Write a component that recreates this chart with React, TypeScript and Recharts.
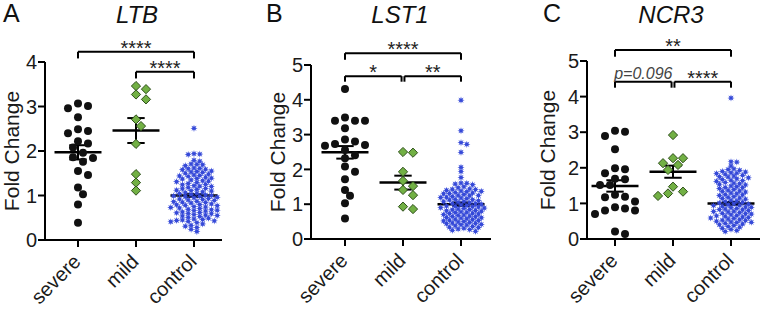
import React from 'react';
import { ScatterChart, Scatter, XAxis, YAxis, ReferenceLine } from 'recharts';

const groups = ['severe', 'mild', 'control'];

// LTB
const ltbSevere = [3.01, 2.96, 3.07, 2.76, 2.49, 2.4, 2.45, 2.17, 2.22, 2.08, 1.86, 1.84, 1.96, 1.76, 1.55, 1.46, 1.18, 1.03, 0.8, 0.39];
const ltbMild = [3.46, 3.39, 3.16, 3.27, 2.71, 2.56, 2.16, 1.48, 1.29, 1.11];
const ltbControl = [
  2.51, 1.94, 1.93, 1.92, 1.79, 1.77, 1.71, 1.69, 1.67, 1.7, 1.62, 1.6, 1.58, 1.61, 1.59, 1.55, 1.53, 1.52, 1.54, 1.5,
  1.48, 1.44, 1.46, 1.43, 1.45, 1.41, 1.39, 1.37, 1.35, 1.38, 1.33, 1.31, 1.29, 1.32, 1.27, 1.25, 1.22, 1.24, 1.2, 1.18,
  1.21, 1.16, 1.14, 1.12, 1.15, 1.1, 1.08, 1.11, 1.06, 1.04, 1.05, 1.02, 1.0, 1.01, 0.98, 0.97, 0.99, 0.95, 0.93, 0.96,
  0.91, 0.92, 0.89, 0.87, 0.9, 0.85, 0.86, 0.83, 0.81, 0.84, 0.79, 0.8, 0.77, 0.75, 0.78, 0.73, 0.74, 0.71, 0.69, 0.72,
  0.67, 0.68, 0.65, 0.63, 0.66, 0.61, 0.62, 0.59, 0.57, 0.6, 0.55, 0.56, 0.53, 0.51, 0.54, 0.49, 0.47, 0.45, 0.46, 0.43,
  0.42, 0.41, 0.44, 0.39, 0.36, 0.33, 0.31, 0.28, 0.24, 0.19,
];
const ltbMean = [1.97, 2.46, 1.0];
const ltbSem = [0.16, 0.28, 0.03];

// LST1
const lst1Severe = [4.31, 3.4, 3.4, 3.49, 3.4, 3.18, 2.86, 2.73, 2.7, 2.68, 2.8, 2.56, 2.41, 2.32, 2.08, 1.93, 1.72, 1.41, 1.24, 1.03, 0.59];
const lst1Mild = [2.5, 2.48, 1.93, 1.67, 1.52, 1.41, 1.26, 0.86, 0.93];
const lst1Control = [
  3.99, 3.11, 2.77, 2.72, 2.49, 2.06, 1.94, 1.77, 1.61, 1.58, 1.56, 1.6, 1.5, 1.47, 1.44, 1.42, 1.4, 1.43, 1.38, 1.36,
  1.34, 1.37, 1.32, 1.3, 1.28, 1.31, 1.26, 1.24, 1.22, 1.25, 1.2, 1.18, 1.16, 1.19, 1.14, 1.12, 1.1, 1.13, 1.08, 1.06,
  1.04, 1.07, 1.02, 1.0, 0.98, 1.01, 0.96, 0.94, 0.95, 0.92, 0.9, 0.93, 0.88, 0.86, 0.89, 0.84, 0.82, 0.85, 0.8, 0.78,
  0.81, 0.76, 0.74, 0.77, 0.72, 0.7, 0.73, 0.68, 0.66, 0.69, 0.64, 0.62, 0.65, 0.6, 0.58, 0.61, 0.56, 0.54, 0.57, 0.52,
  0.5, 0.53, 0.48, 0.46, 0.49, 0.44, 0.42, 0.45, 0.4, 0.38, 0.41, 0.36, 0.34, 0.31, 0.33, 0.29, 0.27, 0.25, 0.22,
];
const lst1Mean = [2.49, 1.62, 1.0];
const lst1Sem = [0.18, 0.2, 0.05];

// NCR3
const ncr3Severe = [3.04, 3.01, 2.89, 2.52, 1.96, 1.99, 1.85, 1.68, 1.69, 1.52, 1.52, 1.17, 1.24, 1.19, 1.05, 0.86, 0.8, 0.7, 0.8, 0.89, 0.14, 0.21];
const ncr3Mild = [2.92, 2.27, 2.27, 2.08, 2.13, 1.94, 1.47, 1.33, 1.21, 1.28];
const ncr3Control = [
  3.96, 2.17, 2.16, 2.05, 1.97, 1.95, 1.93, 1.9, 1.88, 1.86, 1.84, 1.82, 1.85, 1.79, 1.77, 1.75, 1.72, 1.74, 1.69, 1.67,
  1.65, 1.62, 1.64, 1.59, 1.57, 1.55, 1.52, 1.54, 1.49, 1.47, 1.45, 1.42, 1.44, 1.39, 1.37, 1.35, 1.32, 1.34, 1.29, 1.27,
  1.25, 1.22, 1.24, 1.19, 1.17, 1.15, 1.12, 1.14, 1.09, 1.07, 1.05, 1.03, 1.01, 0.99, 0.98, 0.96, 0.94, 0.92, 0.95, 0.9,
  0.88, 0.86, 0.89, 0.84, 0.82, 0.8, 0.83, 0.78, 0.76, 0.74, 0.77, 0.72, 0.7, 0.68, 0.71, 0.66, 0.64, 0.62, 0.65, 0.6,
  0.58, 0.56, 0.59, 0.54, 0.52, 0.5, 0.53, 0.48, 0.46, 0.44, 0.47, 0.42, 0.4, 0.38, 0.35, 0.33, 0.3, 0.27, 0.24, 0.21,
];
const ncr3Mean = [1.49, 1.89, 1.0];
const ncr3Sem = [0.16, 0.17, 0.04];

const FONT = '"Liberation Sans", Arial, sans-serif';
const PX_PER_X = 58;

type Bracket = { x1: number; x2: number; y: number; leg: number; label: string; italic?: boolean };

const panels = [
  {
    letter: 'A', letterX: 3, title: 'LTB', titleX: 137, ylabelX: 18.5,
    left: 0, axisX: 45, top: 62, bottom: 240, right: 222, yMax: 4, xDomain: [0.431, 3.483],
    series: [ltbSevere, ltbMild, ltbControl], mean: ltbMean, sem: ltbSem,
    brackets: [
      { x1: 1, x2: 3, y: 4.23, leg: 0.15, label: '****' },
      { x1: 2, x2: 3, y: 3.78, leg: 0.15, label: '****' },
    ] as Bracket[],
  },
  {
    letter: 'B', letterX: 266, title: 'LST1', titleX: 400, ylabelX: 285,
    left: 254, axisX: 311, top: 65, bottom: 239, right: 491, yMax: 5, xDomain: [0.414, 3.517],
    series: [lst1Severe, lst1Mild, lst1Control], mean: lst1Mean, sem: lst1Sem,
    brackets: [
      { x1: 1, x2: 3, y: 5.34, leg: 0.19, label: '****' },
      { x1: 1, x2: 1.975, y: 4.68, leg: 0.16, label: '*' },
      { x1: 2.025, x2: 3, y: 4.68, leg: 0.16, label: '**' },
    ] as Bracket[],
  },
  {
    letter: 'C', letterX: 543, title: 'NCR3', titleX: 671, ylabelX: 554.5,
    left: 508, axisX: 587, top: 61, bottom: 239, right: 760, yMax: 5, xDomain: [0.517, 3.5],
    series: [ncr3Severe, ncr3Mild, ncr3Control], mean: ncr3Mean, sem: ncr3Sem,
    brackets: [
      { x1: 1, x2: 3, y: 5.31, leg: 0.19, label: '**' },
      { x1: 1, x2: 1.975, y: 4.42, leg: 0.17, label: 'p=0.096', italic: true },
      { x1: 2.025, x2: 3, y: 4.42, leg: 0.17, label: '****' },
    ] as Bracket[],
  },
];

// beeswarm placement of points around a category centre
function swarm(values: number[], center: number, pxY: number, diam: number, step: number) {
  const sorted = [...values].sort((a, b) => b - a);
  const placed: { dx: number; py: number }[] = [];
  return sorted.map((v) => {
    const py = v * pxY;
    let dx = 0;
    for (let k = 0; k < 80; k++) {
      const cand = k === 0 ? 0 : (k % 2 === 1 ? 1 : -1) * Math.ceil(k / 2) * step;
      if (placed.every((p) => (p.dx - cand) ** 2 + (p.py - py) ** 2 >= diam * diam)) {
        dx = cand;
        break;
      }
    }
    placed.push({ dx, py });
    return { x: center + dx / PX_PER_X, y: v };
  });
}

const Dot = (p: any) => <circle cx={p.cx} cy={p.cy} r={4} fill="#111" />;

const Diamond = (p: any) => {
  const r = 4.6;
  return (
    <path
      d={`M${p.cx},${p.cy - r}L${p.cx + r},${p.cy}L${p.cx},${p.cy + r}L${p.cx - r},${p.cy}Z`}
      fill="#72b044"
      stroke="#2f4f1c"
      strokeWidth={1}
    />
  );
};

const Star = (p: any) => {
  const pts: string[] = [];
  for (let i = 0; i < 16; i++) {
    const r = i % 2 === 0 ? 3.6 : 1.6;
    const a = (Math.PI * i) / 8 - Math.PI / 2;
    pts.push(`${p.cx + r * Math.cos(a)},${p.cy + r * Math.sin(a)}`);
  }
  return <polygon points={pts.join(' ')} fill="#3549d8" />;
};

// category labels, slanted like the original
const CatTick = (props: any) => {
  const { x, y, payload } = props;
  return (
    <text
      x={x}
      y={y}
      dx={-7}
      dy={12.5}
      transform={`rotate(-45 ${x} ${y})`}
      textAnchor="end"
      fontSize={20}
      fontFamily={FONT}
      fill="#1a1a1a"
    >
      {groups[payload.value - 1]}
    </text>
  );
};

function Panel({ cfg }: { cfg: (typeof panels)[number] }) {
  const pxY = (cfg.bottom - cfg.top) / cfg.yMax;
  const shapes = [Dot, Diamond, Star];
  const data = cfg.series.map((vals, i) =>
    i === 2 ? swarm(vals, i + 1, pxY, 4.0, 2.9) : swarm(vals, i + 1, pxY, 7.6, 5)
  );
  const yTicks = Array.from({ length: cfg.yMax + 1 }, (_, i) => i);
  const line = { stroke: '#000', strokeWidth: 2 };
  return (
    <div style={{ position: 'absolute', left: cfg.left, top: 0 }}>
      <ScatterChart
        width={254}
        height={310}
        margin={{ top: cfg.top, bottom: 0, left: 0, right: 254 - (cfg.right - cfg.left) }}
      >
        <XAxis
          type="number"
          dataKey="x"
          domain={cfg.xDomain}
          ticks={[1, 2, 3]}
          interval={0}
          allowDataOverflow
          axisLine={line}
          tickLine={line}
          tickSize={7}
          tickMargin={2}
          tick={CatTick}
          height={310 - cfg.bottom}
        />
        <YAxis
          type="number"
          dataKey="y"
          domain={[0, cfg.yMax]}
          ticks={yTicks}
          interval={0}
          allowDataOverflow
          axisLine={line}
          tickLine={line}
          tickSize={7}
          tickMargin={1}
          width={cfg.axisX - cfg.left}
          tick={{ fontSize: 20, fill: '#1a1a1a', fontFamily: FONT }}
        />
        {data.map((d, i) => (
          <Scatter key={groups[i]} name={groups[i]} data={d} shape={shapes[i]} isAnimationActive={false} />
        ))}
        {cfg.mean.map((m, i) => (
          <ReferenceLine
            key={`m${i}`}
            segment={[{ x: i + 0.595, y: m }, { x: i + 1.405, y: m }]}
            stroke="#000"
            strokeWidth={2.5}
            ifOverflow="visible"
          />
        ))}
        {cfg.mean.map((m, i) => (
          <ReferenceLine
            key={`s${i}`}
            segment={[{ x: i + 1, y: m - cfg.sem[i] }, { x: i + 1, y: m + cfg.sem[i] }]}
            stroke="#000"
            strokeWidth={2}
            ifOverflow="visible"
          />
        ))}
        {cfg.mean.flatMap((m, i) =>
          [m - cfg.sem[i], m + cfg.sem[i]].map((v, j) => (
            <ReferenceLine
              key={`c${i}${j}`}
              segment={[{ x: i + 0.85, y: v }, { x: i + 1.15, y: v }]}
              stroke="#000"
              strokeWidth={2}
              ifOverflow="visible"
            />
          ))
        )}
        {cfg.brackets.flatMap((b, i) => [
          <ReferenceLine
            key={`b${i}`}
            segment={[{ x: b.x1, y: b.y }, { x: b.x2, y: b.y }]}
            stroke="#000"
            strokeWidth={2}
            ifOverflow="visible"
            label={{
              value: b.label,
              position: 'top',
              offset: b.italic ? 3 : -3,
              fontSize: b.italic ? 16 : 20,
              fill: b.italic ? '#444' : '#222',
              fontStyle: b.italic ? 'italic' : 'normal',
              fontFamily: FONT,
            }}
          />,
          <ReferenceLine
            key={`l${i}`}
            segment={[{ x: b.x1, y: b.y }, { x: b.x1, y: b.y - b.leg }]}
            stroke="#000"
            strokeWidth={2}
            ifOverflow="visible"
          />,
          <ReferenceLine
            key={`r${i}`}
            segment={[{ x: b.x2, y: b.y }, { x: b.x2, y: b.y - b.leg }]}
            stroke="#000"
            strokeWidth={2}
            ifOverflow="visible"
          />,
        ])}
      </ScatterChart>
    </div>
  );
}

export default function App() {
  return (
    <div style={{ position: 'absolute', left: 0, top: 0, width: 762, height: 310, background: '#fff' }}>
      {panels.map((p) => (
        <Panel key={p.letter} cfg={p} />
      ))}
      <svg width={762} height={310} style={{ position: 'absolute', left: 0, top: 0, pointerEvents: 'none' }}>
        {panels.map((p) => (
          <g key={p.letter} fontFamily={FONT} fill="#111">
            <text x={p.letterX} y={22} fontSize={25}>
              {p.letter}
            </text>
            <text x={p.titleX} y={23} fontSize={24} fontStyle="italic" textAnchor="middle">
              {p.title}
            </text>
            <text
              x={p.ylabelX}
              y={(p.top + p.bottom) / 2}
              fontSize={21}
              textAnchor="middle"
              fill="#1a1a1a"
              transform={`rotate(-90 ${p.ylabelX} ${(p.top + p.bottom) / 2})`}
            >
              Fold Change
            </text>
          </g>
        ))}
      </svg>
    </div>
  );
}
